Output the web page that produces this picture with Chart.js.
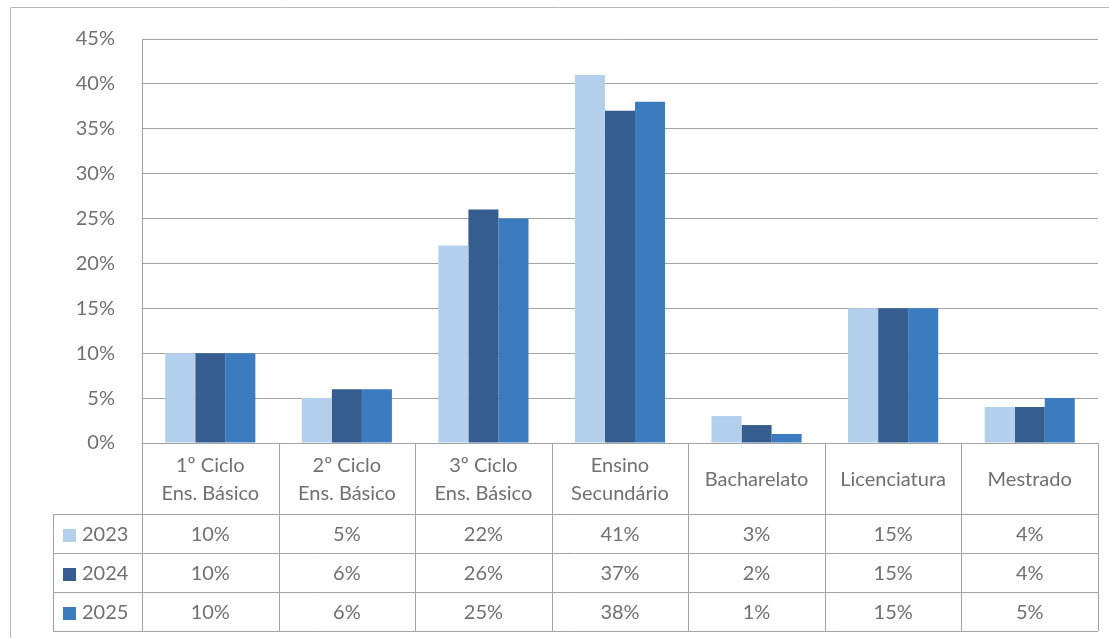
<!DOCTYPE html>
<html lang="pt">
<head>
<meta charset="utf-8">
<title>Habilitações</title>
<script src="https://cdn.jsdelivr.net/npm/chart.js@4.4.1/dist/chart.umd.min.js"></script>
<style>
    html, body { margin: 0; padding: 0; background: #fff; }
    #wrap { position: relative; width: 1109px; height: 638px; }
</style>
</head>
<body>
<div id="wrap"><canvas id="habChart"></canvas></div>
<script>
const categories = [
    ['1º Ciclo', 'Ens. Básico'],
    ['2º Ciclo', 'Ens. Básico'],
    ['3º Ciclo', 'Ens. Básico'],
    ['Ensino', 'Secundário'],
    'Bacharelato',
    'Licenciatura',
    'Mestrado'
];
const years = ['2023', '2024', '2025'];
const values2023 = [10, 5, 22, 41, 3, 15, 4];
const values2024 = [10, 6, 26, 37, 2, 15, 4];
const values2025 = [10, 6, 25, 38, 1, 15, 5];
const yTicks = [0, 5, 10, 15, 20, 25, 30, 35, 40, 45];

const colors = ['#b2cfec', '#355d8f', '#3b7bbf'];
const lineColor = '#a3a3a3';
const textColor = '#707070';
const fontFamily = 'Lato, "Open Sans", sans-serif';

const HEADER_H = 71;
const ROW_H = 39;
const LEGEND_LEFT = 53;

// Excel-style data table under the plot, plus the frame around the chart
const dataTablePlugin = {
    id: 'dataTable',
    afterDraw(chart) {
        const ctx = chart.ctx;
        const area = chart.chartArea;
        const n = categories.length;
        const colW = (area.right - area.left) / n;
        const headBottom = area.bottom + HEADER_H;
        const tableBottom = headBottom + ROW_H * years.length;
        const px = v => Math.round(v) + 0.5;

        ctx.save();
        ctx.strokeStyle = lineColor;
        ctx.lineWidth = 1;
        ctx.beginPath();
        // column separators
        for (let i = 0; i <= n; i++) {
            const x = px(area.left + i * colW);
            ctx.moveTo(x, area.bottom);
            ctx.lineTo(x, tableBottom);
        }
        // row lines
        for (let r = 0; r <= years.length; r++) {
            const y = px(headBottom + r * ROW_H);
            ctx.moveTo(LEGEND_LEFT, y);
            ctx.lineTo(area.right, y);
        }
        ctx.moveTo(px(LEGEND_LEFT), headBottom);
        ctx.lineTo(px(LEGEND_LEFT), tableBottom);
        ctx.stroke();

        // outer frame
        ctx.beginPath();
        ctx.strokeStyle = '#b8b8b8';
        ctx.moveTo(px(10), chart.height);
        ctx.lineTo(px(10), px(7));
        ctx.lineTo(chart.width, px(7));
        ctx.stroke();

        ctx.font = '20px ' + fontFamily;
        ctx.textBaseline = 'middle';
        chart.data.datasets.forEach((ds, r) => {
            const yMid = headBottom + r * ROW_H + ROW_H / 2 + 1;
            ctx.fillStyle = ds.backgroundColor;
            ctx.fillRect(63, Math.round(yMid - 6), 13, 13);
            ctx.fillStyle = textColor;
            ctx.textAlign = 'left';
            ctx.fillText(ds.label, 82, yMid);
            ctx.textAlign = 'center';
            ds.data.forEach((v, i) => {
                const x = chart.scales.x.getPixelForValue(i);
                ctx.fillText(v + '%', x, yMid);
            });
        });
        ctx.restore();
    }
};

const ctx = document.getElementById('habChart');
new Chart(ctx, {
    type: 'bar',
    data: {
        labels: categories,
        datasets: [
            { label: years[0], data: values2023, backgroundColor: colors[0] },
            { label: years[1], data: values2024, backgroundColor: colors[1] },
            { label: years[2], data: values2025, backgroundColor: colors[2] }
        ]
    },
    options: {
        responsive: true,
        maintainAspectRatio: false,
        animation: false,
        devicePixelRatio: 1,
        layout: {
            padding: { left: 10, top: 35, right: 11, bottom: 638 - 443 - HEADER_H }
        },
        datasets: {
            bar: { categoryPercentage: 0.66, barPercentage: 1, borderWidth: 0 }
        },
        plugins: {
            legend: { display: false },
            tooltip: { enabled: false }
        },
        scales: {
            x: {
                grid: { display: false },
                border: { color: lineColor },
                ticks: {
                    color: textColor,
                    font: { family: fontFamily, size: 20, lineHeight: 1.4 },
                    maxRotation: 0,
                    autoSkip: false,
                    padding: 15,
                    crossAlign: 'center'
                },
                afterFit(scale) { scale.height = HEADER_H; }
            },
            y: {
                min: 0,
                max: 45,
                afterBuildTicks(scale) { scale.ticks = yTicks.map(v => ({ value: v })); },
                grid: { color: lineColor, drawTicks: false },
                border: { color: lineColor },
                ticks: {
                    color: textColor,
                    padding: 27,
                    font: { family: fontFamily, size: 20 },
                    callback: v => v + '%'
                },
                afterFit(scale) { scale.width = 132; }
            }
        }
    },
    plugins: [dataTablePlugin]
});
</script>
</body>
</html>
